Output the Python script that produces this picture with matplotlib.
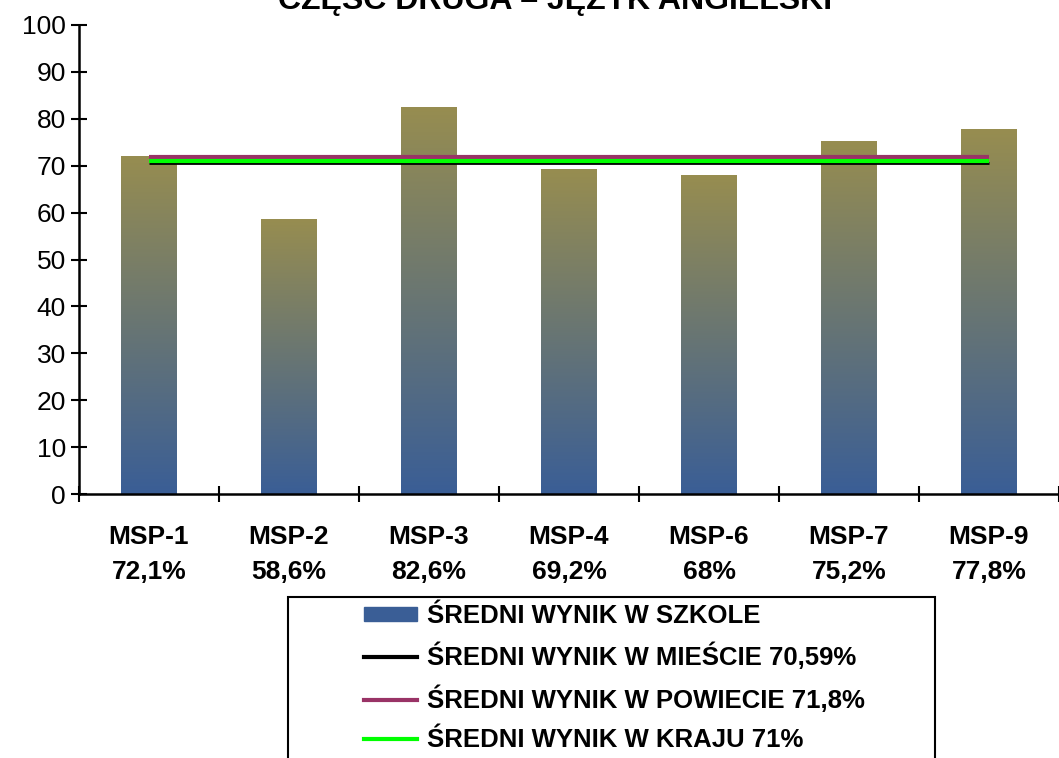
import numpy as np
import matplotlib
matplotlib.use('Agg')
import matplotlib.pyplot as plt
from matplotlib.patches import Rectangle
from matplotlib.lines import Line2D
from matplotlib.colors import LinearSegmentedColormap

plt.rcParams['font.family'] = ['Liberation Sans', 'DejaVu Sans']

# data
schools = ['MSP-1', 'MSP-2', 'MSP-3', 'MSP-4', 'MSP-6', 'MSP-7', 'MSP-9']
school_scores = [72.1, 58.6, 82.6, 69.2, 68, 75.2, 77.8]
score_labels = ['72,1%', '58,6%', '82,6%', '69,2%', '68%', '75,2%', '77,8%']
city_avg = 70.59
county_avg = 71.8
country_avg = 71.0
legend_labels = ['ŚREDNI WYNIK W SZKOLE',
                 'ŚREDNI WYNIK W MIEŚCIE 70,59%',
                 'ŚREDNI WYNIK W POWIECIE 71,8%',
                 'ŚREDNI WYNIK W KRAJU 71%']
title = 'CZĘŚĆ DRUGA – JĘZYK ANGIELSKI'

blue = '#3A5E96'
olive = '#978D50'
grad = LinearSegmentedColormap.from_list('grad', [blue, olive])

fig = plt.figure(figsize=(10.59, 7.58), dpi=100)
ax = fig.add_axes([79/1059, 1-494/758, 1-79/1059, (494-25)/758])

x = np.arange(len(schools))
bars = ax.bar(x, school_scores, width=0.4, color='none', edgecolor='none', zorder=2)
g = np.linspace(0, 1, 256).reshape(-1, 1)
for b in bars:
    bx, by = b.get_x(), b.get_y()
    im = ax.imshow(g, cmap=grad, origin='lower', aspect='auto',
                   extent=[bx, bx + b.get_width(), by, by + b.get_height()], zorder=2)
    im.set_clip_path(b)

ax.plot([x[0], x[-1]], [county_avg, county_avg], color='#993366', lw=3, zorder=3, solid_capstyle='butt')
ax.plot([x[0], x[-1]], [city_avg, city_avg], color='black', lw=2, zorder=3, solid_capstyle='butt')
ax.plot([x[0], x[-1]], [country_avg, country_avg], color='#00FF00', lw=3, zorder=4, solid_capstyle='butt')

ax.set_xlim(-0.5, len(schools) - 0.5)
ax.set_ylim(0, 100)
ax.set_yticks(np.arange(0, 101, 10))
ax.tick_params(axis='y', direction='inout', length=11, width=1.5, labelsize=19, pad=4)
ax.set_xticks(x)
ax.set_xticklabels([f'{s}\n{l}' for s, l in zip(schools, score_labels)],
                   fontsize=19, fontweight='bold', linespacing=1.6)
ax.tick_params(axis='x', which='major', length=0, pad=22)
ax.set_xticks(np.arange(-0.5, len(schools), 1), minor=True)
ax.tick_params(axis='x', which='minor', direction='inout', length=11, width=1.5)
for s in ['top', 'right']:
    ax.spines[s].set_visible(False)
for s in ['left', 'bottom']:
    ax.spines[s].set_linewidth(1.8)

fig.text(555/1059, 1 - 9/758, title, ha='center', va='baseline', fontsize=23, fontweight='bold')

# legend box
fig.patches.append(Rectangle((288/1059, -0.05), (935-288)/1059, (1-597/758) + 0.05,
                             transform=fig.transFigure, fill=False, edgecolor='black', lw=1.5))
handles = [Rectangle((0, 0), 1, 1, color=blue),
           Line2D([], [], color='black', lw=3),
           Line2D([], [], color='#993366', lw=3),
           Line2D([], [], color='#00FF00', lw=3)]
fig.legend(handles, legend_labels, loc='upper left', bbox_to_anchor=(364/1059, 1-604/758),
           frameon=False, prop={'weight': 'bold', 'size': 18.5}, handlelength=2.05,
           handleheight=0.45, handletextpad=0.4, labelspacing=0.58,
           borderpad=0, borderaxespad=0)

fig.savefig('out.png', dpi=100)
